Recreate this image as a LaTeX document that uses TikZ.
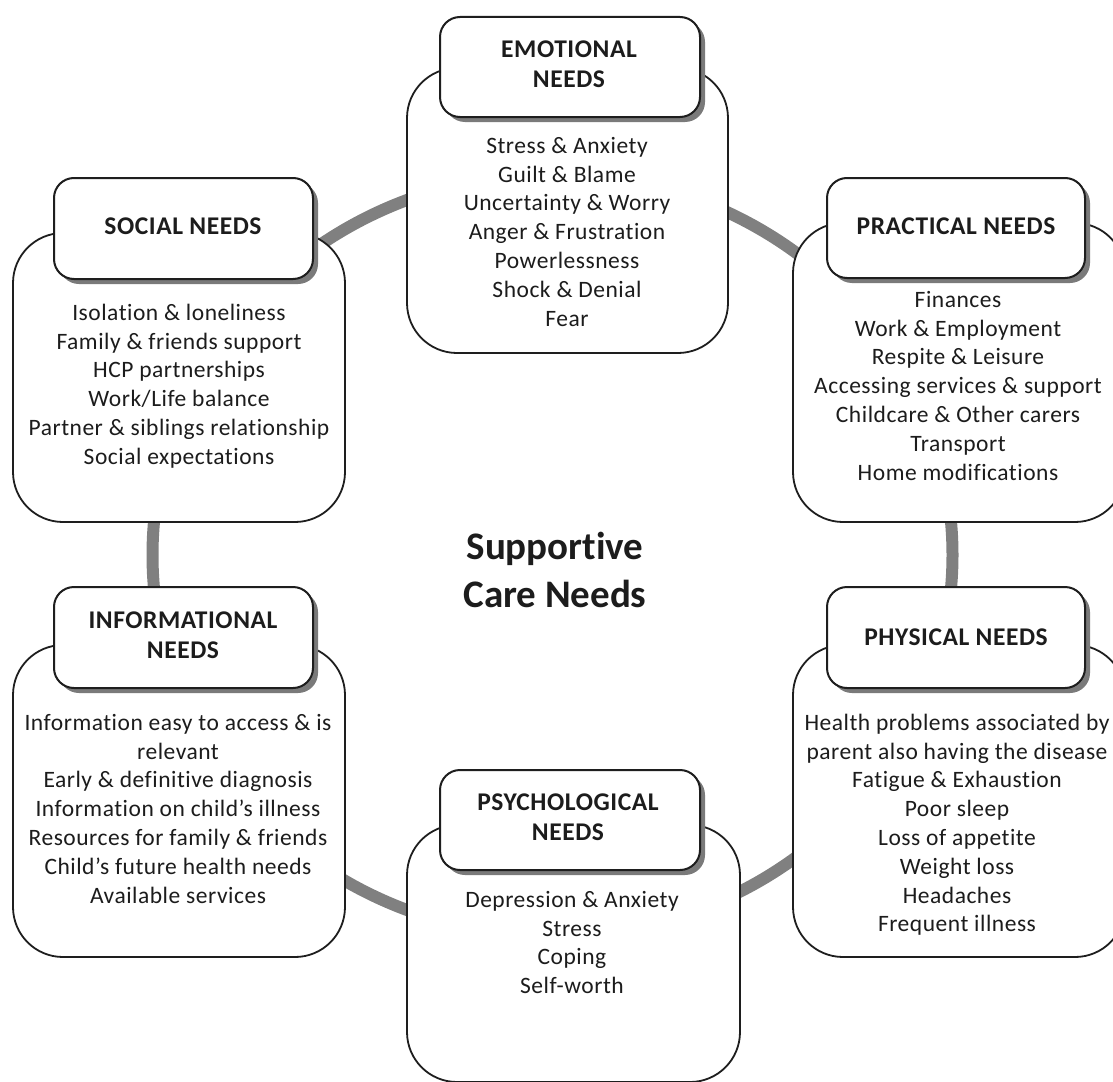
\documentclass[tikz,border=0pt]{standalone}
\usepackage{fontspec}
\setmainfont{Carlito}[Ligatures=NoCommon]
\newfontfamily\listfont{Carlito}[Ligatures=NoCommon, LetterSpace=2.2]
\usetikzlibrary{shadows}
\definecolor{ringgray}{HTML}{808080}
\definecolor{boxline}{HTML}{1E1E1E}
\definecolor{shadowgray}{HTML}{7A7A7A}
\definecolor{textcol}{HTML}{1C1C1C}
\newcommand{\bstrut}{\rule{0pt}{18pt}}
\newcommand{\tstrut}{\rule{0pt}{19pt}}
\newcommand{\cstrut}{\rule{0pt}{30pt}}
\tikzset{
  ring/.style={draw=ringgray, line width=12pt},
  bodybox/.style={draw=boxline, line width=1.8pt, fill=white, rounded corners=50pt, inner sep=0pt},
  titlebox/.style={draw=boxline, line width=2pt, fill=white, rounded corners=20pt, inner sep=0pt,
    drop shadow={shadow xshift=5pt, shadow yshift=-5pt, fill=shadowgray, opacity=1}},
  bodytext/.style={font=\listfont\fontsize{23.5}{28.8}\selectfont, align=center, anchor=north, inner sep=0pt, text=textcol},
  titletext/.style={font=\listfont\fontsize{25.5}{30}\selectfont\bfseries, align=center, anchor=north, inner sep=0pt, text=textcol},
  centertext/.style={font=\fontsize{39}{48}\selectfont\bfseries, align=center, anchor=north, inner sep=0pt, text=textcol}
}
\begin{document}
\begin{tikzpicture}[x=1pt,y=-1pt]
\useasboundingbox (0,0) rectangle (1113,1081);
\clip (0,0) rectangle (1113,1081);
\fill[white] (0,0) rectangle (1113,1081);
% ring
\coordinate (hub) at (552.5,555);
\draw[ring] (hub) ellipse [x radius=400pt, y radius=381pt];
% body boxes
\node[bodybox, minimum width=321pt, minimum height=285pt] (emobody) at (567.5,210.5) {};
\node[bodybox, minimum width=332pt, minimum height=289pt] (socbody) at (179,377.5) {};
\node[bodybox, minimum width=332pt, minimum height=299pt] (pracbody) at (959,372.5) {};
\node[bodybox, minimum width=332pt, minimum height=312pt] (infobody) at (179,801) {};
\node[bodybox, minimum width=332pt, minimum height=312pt] (physbody) at (959,801) {};
\node[bodybox, minimum width=333pt, minimum height=257pt] (psychbody) at (573.5,953.5) {};
% title boxes
\node[titlebox, minimum width=260pt, minimum height=100pt] (emotitle) at (570,67) {};
\node[titlebox, minimum width=259pt, minimum height=101pt] (soctitle) at (183.5,228.5) {};
\node[titlebox, minimum width=258pt, minimum height=100pt] (practitle) at (956,228) {};
\node[titlebox, minimum width=259pt, minimum height=101pt] (infotitle) at (183.5,637.5) {};
\node[titlebox, minimum width=258pt, minimum height=101pt] (phystitle) at (956,637.5) {};
\node[titlebox, minimum width=260pt, minimum height=100pt] (psychtitle) at (570,820) {};
% title texts
\node[titletext] (emohead) at (569,38) {\tstrut EMOTIONAL\\NEEDS};
\node[titletext] (sochead) at (183,215) {\tstrut SOCIAL NEEDS};
\node[titletext] (prachead) at (956,215) {\tstrut PRACTICAL NEEDS};
\node[titletext] (infohead) at (183,609) {\tstrut INFORMATIONAL\\NEEDS};
\node[titletext] (physhead) at (956,626) {\tstrut PHYSICAL NEEDS};
\node[titletext] (psychhead) at (568,791) {\tstrut PSYCHOLOGICAL\\NEEDS};
% body texts
\node[bodytext] (emolist) at (567,135) {\bstrut Stress \& Anxiety\\Guilt \& Blame\\Uncertainty \& Worry\\Anger \& Frustration\\Powerlessness\\Shock \& Denial\\Fear};
\node[bodytext] (soclist) at (179,302) {\bstrut Isolation \& loneliness\\Family \& friends support\\HCP partnerships\\Work/Life balance\\Partner \& siblings relationship\\Social expectations};
\node[bodytext] (praclist) at (958,289) {\bstrut Finances\\Work \& Employment\\Respite \& Leisure\\Accessing services \& support\\Childcare \& Other carers\\Transport\\Home modifications};
\node[bodytext] (infolist) at (178,712) {\bstrut Information easy to access \& is\\relevant\\Early \& definitive diagnosis\\Information on child’s illness\\Resources for family \& friends\\Child’s future health needs\\Available services};
\node[bodytext] (physlist) at (957,712) {\bstrut Health problems associated by\\parent also having the disease\\Fatigue \& Exhaustion\\Poor sleep\\Loss of appetite\\Weight loss\\Headaches\\Frequent illness};
\node[bodytext] (psychlist) at (572,889) {\bstrut Depression \& Anxiety\\Stress\\Coping\\Self-worth};
% centre
\node[centertext] (centre) at (555,529) {\cstrut Supportive\\Care Needs};
\end{tikzpicture}
\end{document}
